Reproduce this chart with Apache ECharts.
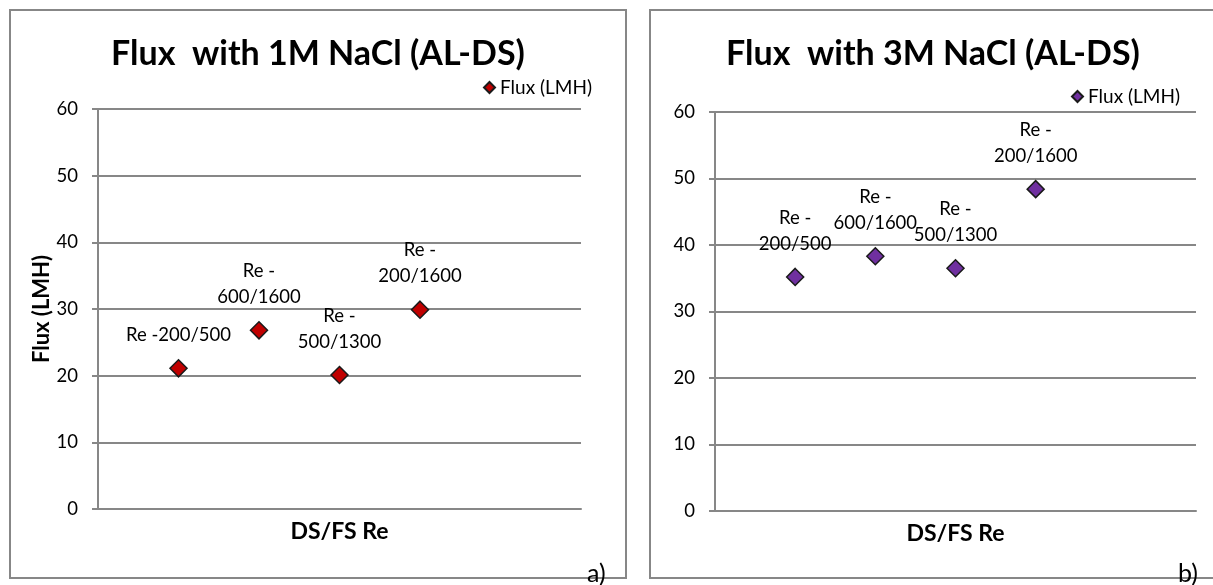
<!DOCTYPE html>
<html>
<head>
<meta charset="utf-8">
<script src="https://cdn.jsdelivr.net/npm/echarts@6/dist/echarts.min.js"></script>
<style>
html,body{margin:0;padding:0;background:#fff;}
#c{width:1213px;height:585px;}
</style>
</head>
<body>
<div id="c"></div>
<script>
// ---- data ----
const xPositions = [1, 2, 3, 4];
const leftLabels = ['Re -200/500', 'Re -\n600/1600', 'Re -\n500/1300', 'Re -\n200/1600'];
const leftFlux = [21.1, 26.8, 20.1, 29.9];
const rightLabels = ['Re -\n200/500', 'Re -\n600/1600', 'Re -\n500/1300', 'Re -\n200/1600'];
const rightFlux = [35.2, 38.3, 36.5, 48.4];
const yMin = 0, yMax = 60, yStep = 10;
const xMin = 0, xMax = 6;
const leftTitle = 'Flux  with 1M NaCl (AL-DS)';
const rightTitle = 'Flux  with 3M NaCl (AL-DS)';
const seriesName = 'Flux (LMH)';
const xName = 'DS/FS Re';
const yName = 'Flux (LMH)';

const FONT = 'Lato, "Open Sans", sans-serif';
const GRAY = '#878787';

function pts(vals) { return xPositions.map((x, i) => [x, vals[i]]); }

function yAxisCfg(gridIndex, withName) {
  return {
    type: 'value', gridIndex, min: yMin, max: yMax, interval: yStep,
    name: withName ? yName : '',
    nameLocation: 'middle', nameGap: 44,
    nameTextStyle: { fontFamily: FONT, fontWeight: 'bold', fontSize: 22, color: '#000' },
    axisLine: { show: true, lineStyle: { color: GRAY, width: 2 } },
    axisTick: { show: true, length: 6, lineStyle: { color: GRAY, width: 2 } },
    axisLabel: { fontFamily: FONT, fontSize: 18.5, color: '#000', margin: 20 },
    splitLine: { show: true, lineStyle: { color: GRAY, width: 2 } }
  };
}
function xAxisCfg(gridIndex) {
  return {
    type: 'value', gridIndex, min: xMin, max: xMax,
    name: xName, nameLocation: 'middle', nameGap: 11,
    nameTextStyle: { fontFamily: FONT, fontWeight: 'bold', fontSize: 23, color: '#000' },
    axisLine: { show: true, onZero: false, lineStyle: { color: GRAY, width: 2 } },
    axisTick: { show: false },
    axisLabel: { show: false },
    splitLine: { show: false }
  };
}
function seriesCfg(name, idx, vals, labels, color) {
  return {
    name, type: 'scatter', xAxisIndex: idx, yAxisIndex: idx,
    data: pts(vals),
    symbol: 'diamond', symbolSize: 17,
    itemStyle: { color, borderColor: '#1a1a1a', borderWidth: 1.5, opacity: 1 },
    label: {
      show: true, position: 'top', distance: 11,
      formatter: p => labels[p.dataIndex],
      fontFamily: FONT, fontSize: 18.5, lineHeight: 26, color: '#000', align: 'center'
    },
    emphasis: { disabled: true }
  };
}

const chart = echarts.init(document.getElementById('c'), null, { renderer: 'canvas' });
chart.setOption({
  animation: false,
  backgroundColor: '#fff',
  title: [
    { text: leftTitle, left: 318, top: 37, textAlign: 'center', padding: 0,
      textStyle: { fontFamily: FONT, fontWeight: 'bold', fontSize: 34, color: '#000' } },
    { text: rightTitle, left: 933, top: 37, textAlign: 'center', padding: 0,
      textStyle: { fontFamily: FONT, fontWeight: 'bold', fontSize: 34, color: '#000' } }
  ],
  legend: [
    { data: [seriesName], left: 483, top: 78, padding: 0, itemWidth: 11, itemHeight: 11, itemGap: 5,
      icon: 'diamond', textStyle: { fontFamily: FONT, fontSize: 19, color: '#000' } },
    { data: [seriesName + ' '], left: 1071, top: 87, padding: 0, itemWidth: 11, itemHeight: 11, itemGap: 5,
      icon: 'diamond', textStyle: { fontFamily: FONT, fontSize: 19, color: '#000' } }
  ],
  grid: [
    { left: 98, right: 1213 - 581, top: 109, bottom: 585 - 509 },
    { left: 715, right: 1213 - 1196, top: 112, bottom: 585 - 511 }
  ],
  xAxis: [xAxisCfg(0), xAxisCfg(1)],
  yAxis: [yAxisCfg(0, true), yAxisCfg(1, false)],
  series: [
    seriesCfg(seriesName, 0, leftFlux, leftLabels, '#C00000'),
    seriesCfg(seriesName + ' ', 1, rightFlux, rightLabels, '#7030A0')
  ],
  graphic: [
    { type: 'rect', shape: { x: 10, y: 10, width: 616, height: 568 }, z: -1,
      style: { fill: 'none', stroke: GRAY, lineWidth: 2 } },
    { type: 'rect', shape: { x: 650, y: 10, width: 572, height: 568 }, z: -1,
      style: { fill: 'none', stroke: GRAY, lineWidth: 2 } },
    { type: 'text', left: 587, top: 561, z: 10,
      style: { text: 'a)', fontFamily: FONT, fontSize: 25, fill: '#000' } },
    { type: 'text', left: 1178, top: 561, z: 10,
      style: { text: 'b)', fontFamily: FONT, fontSize: 25, fill: '#000' } }
  ]
});
</script>
</body>
</html>
